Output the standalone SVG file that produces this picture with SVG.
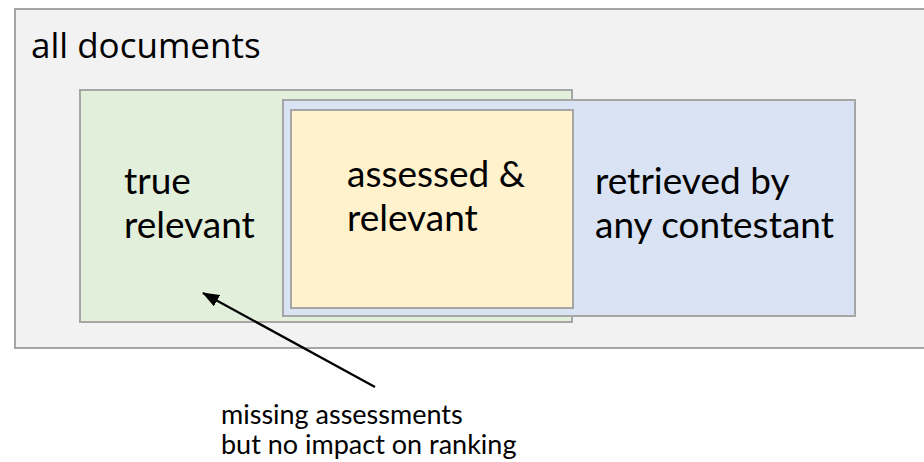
<svg xmlns="http://www.w3.org/2000/svg" width="924" height="462" viewBox="0 0 924 462">
<style>
.box{stroke:#a6a6a6;stroke-width:2}
.lbl{font-family:Lato,"Open Sans","Liberation Sans",sans-serif;font-size:37px;fill:#000}
.note{font-family:Lato,"Open Sans","Liberation Sans",sans-serif;font-size:27px;fill:#000}
.title{font-family:"Open Sans",Lato,"Liberation Sans",sans-serif;font-size:35px;fill:#000}
</style>
<defs>
<marker id="ah" markerWidth="17" markerHeight="13" refX="16" refY="6.5" orient="auto" markerUnits="userSpaceOnUse">
<path d="M0,0 L17,6.5 L0,13 z" fill="#000"/>
</marker>
</defs>
<rect width="924" height="462" fill="#fff"/>
<g id="all-documents">
<rect class="box" x="15" y="9" width="920" height="339" fill="#f2f2f2"/>
<text class="title" x="31" y="58">all documents</text>
</g>
<g id="true-relevant">
<rect class="box" x="80" y="90" width="492" height="232" fill="#e2efda"/>
<text class="lbl"><tspan x="124" y="194">true</tspan><tspan x="124" y="238">relevant</tspan></text>
</g>
<g id="retrieved">
<rect class="box" x="283" y="100" width="572" height="216" fill="#dae3f3"/>
<text class="lbl"><tspan x="595" y="194">retrieved by</tspan><tspan x="595" y="238">any contestant</tspan></text>
</g>
<g id="assessed-relevant">
<rect class="box" x="291" y="110" width="282" height="198" fill="#fff2cc"/>
<text class="lbl"><tspan x="347" y="187">assessed &amp;</tspan><tspan x="347" y="231">relevant</tspan></text>
</g>
<g id="connectors">
<line x1="375" y1="387" x2="203" y2="293" stroke="#000" stroke-width="2.2" marker-end="url(#ah)"/>
</g>
<g id="note">
<text class="note"><tspan x="221" y="424">missing assessments</tspan><tspan x="221" y="454">but no impact on ranking</tspan></text>
</g>
</svg>
